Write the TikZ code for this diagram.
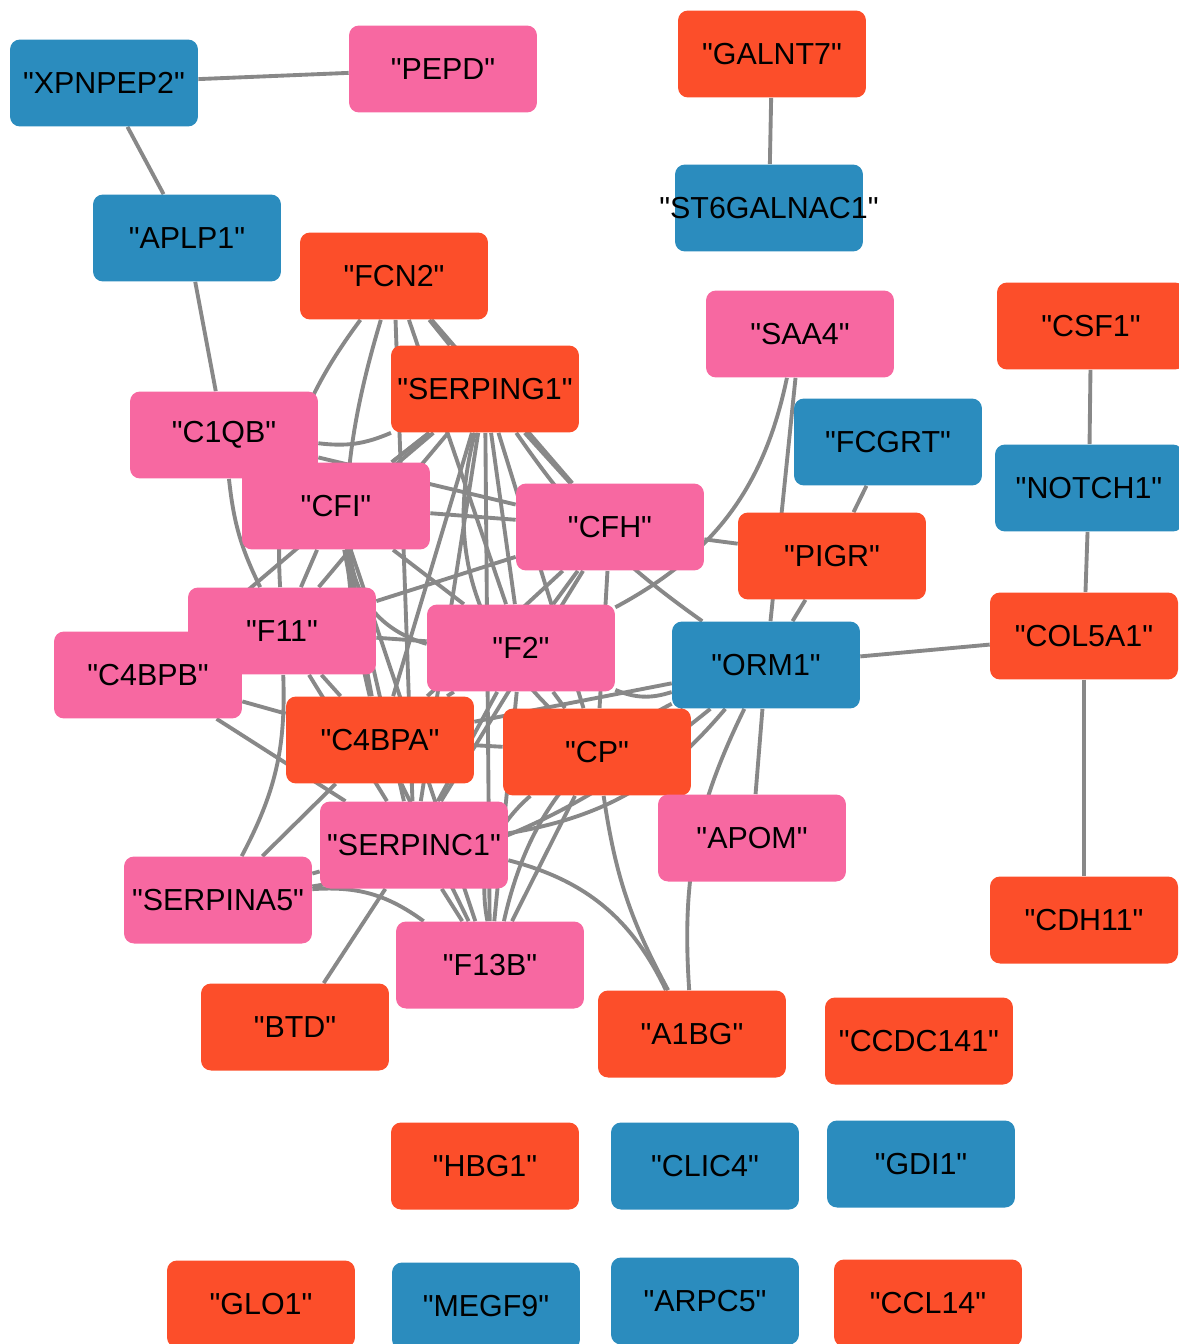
\documentclass[tikz,border=0pt]{standalone}
\usepackage{fontspec}
\setmainfont{Liberation Sans}[Ligatures=TeXOff]
\definecolor{blueg}{RGB}{43, 140, 190}
\definecolor{redg}{RGB}{252, 78, 42}
\definecolor{pinkg}{RGB}{247, 104, 161}
\definecolor{linkgray}{RGB}{136, 136, 136}
\pgfdeclarelayer{back}
\pgfsetlayers{back,main}
\tikzset{
    gene/.style = {rectangle, rounded corners = 0.2cm, minimum width = 3.76cm, minimum height = 1.74cm, inner sep = 0pt, font = \fontsize{17.3}{20}\selectfont},
    bluebox/.style = {gene, fill = blueg},
    redbox/.style = {gene, fill = redg},
    pinkbox/.style = {gene, fill = pinkg},
    link/.style = {draw = linkgray, line width = 2.2pt}
}

\begin{document}
\begin{tikzpicture}[x = 0.02cm, y = -0.02cm]
    \useasboundingbox (0,0) rectangle (1178,1344);

    % isolated pairs and the top row
    \node[bluebox] (xpnpep2) at (104,83) {"XPNPEP2"};
    \node[pinkbox] (pepd) at (443,69) {"PEPD"};
    \node[redbox] (galnt7) at (772,54) {"GALNT7"};
    \node[bluebox] (st6) at (769,208) {\makebox[3.7cm]{"ST6GALNAC1"}};
    \node[bluebox] (aplp1) at (187,238) {"APLP1"};
    \node[redbox] (fcn2) at (394,276) {"FCN2"};
    \node[pinkbox] (saa4) at (800,334) {"SAA4"};
    \node[redbox] (csf1) at (1091,326) {"CSF1"};
    \node[redbox] (serping1) at (485,389) {"SERPING1"};
    \node[pinkbox] (c1qb) at (224,435) {"C1QB"};
    \node[bluebox] (fcgrt) at (888,442) {"FCGRT"};
    \node[bluebox] (notch1) at (1089,488) {"NOTCH1"};
    \node[pinkbox] (cfi) at (336,506) {"CFI"};
    \node[pinkbox] (cfh) at (610,527) {"CFH"};
    \node[redbox] (pigr) at (832,556) {"PIGR"};
    \node[pinkbox] (f11) at (282,631) {"F11"};
    \node[pinkbox] (c4bpb) at (148,675) {"C4BPB"};
    \node[pinkbox] (f2) at (521,648) {"F2"};
    \node[bluebox] (orm1) at (766,665) {"ORM1"};
    \node[redbox] (col5a1) at (1084,636) {"COL5A1"};
    \node[redbox] (c4bpa) at (380,740) {"C4BPA"};
    \node[redbox] (cp) at (597,752) {"CP"};
    \node[pinkbox] (apom) at (752,838) {"APOM"};
    \node[pinkbox] (serpinc1) at (414,845) {"SERPINC1"};
    \node[pinkbox] (serpina5) at (218,900) {"SERPINA5"};
    \node[redbox] (cdh11) at (1084,920) {"CDH11"};
    \node[pinkbox] (f13b) at (490,965) {"F13B"};
    \node[redbox] (btd) at (295,1027) {"BTD"};
    \node[redbox] (a1bg) at (692,1034) {"A1BG"};
    \node[redbox] (ccdc141) at (919,1041) {"CCDC141"};

    % genes without links
    \node[redbox] (hbg1) at (485,1166) {"HBG1"};
    \node[bluebox] (clic4) at (705,1166) {"CLIC4"};
    \node[bluebox] (gdi1) at (921,1164) {"GDI1"};
    \node[redbox] (glo1) at (261,1304) {"GLO1"};
    \node[bluebox] (megf9) at (486,1306) {"MEGF9"};
    \node[bluebox] (arpc5) at (705,1301) {"ARPC5"};
    \node[redbox] (ccl14) at (928,1303) {"CCL14"};

    \begin{pgfonlayer}{back}
        % straight links
        \foreach \a/\b in {xpnpep2/pepd, xpnpep2/aplp1, aplp1/c1qb, galnt7/st6, csf1/notch1, notch1/col5a1,
            col5a1/cdh11, col5a1/orm1, fcgrt/pigr, saa4/orm1, pigr/orm1, cfh/pigr, orm1/apom,
            btd/serpinc1, serpina5/c4bpa, serpina5/serpinc1, c4bpb/c4bpa, c4bpb/serpinc1,
            c1qb/cfh, cfi/cfh, cfi/serping1, fcn2/serping1, fcn2/cfh, fcn2/f2, fcn2/serpinc1,
            serping1/cfi, serping1/f11, serping1/c4bpb, serping1/f2, serping1/c4bpa, serping1/cp,
            serping1/serpinc1, serping1/f13b, serping1/cfh, cfh/f2, cfh/c4bpa, cfh/cp, cfh/serpinc1,
            cfh/f11, f2/c4bpa, f2/cp, f2/serpinc1, f2/f13b, f2/f11, f2/cfi, f11/c4bpa, f11/serpinc1,
            f11/cfi, c4bpa/f13b, c4bpa/cp, c4bpa/orm1, cfi/f13b, cfi/c4bpa, cfi/serpinc1, cp/orm1,
            serpinc1/f13b, cp/f13b}
            \draw[link] (\a) -- (\b);

        % bent links
        \draw[link] (saa4) to[bend left = 25] (f2);
        \draw[link] (serping1) to[bend right = 10] (orm1);
        \draw[link] (orm1) to[bend right = 15] (a1bg);
        \draw[link] (cp) to[bend right = 10] (a1bg);
        \draw[link] (serpinc1) to[bend left = 25] (a1bg);
        \draw[link] (serpinc1) to[bend right = 20] (orm1);
        \draw[link] (serpina5) to[bend right = 15] (orm1);
        \draw[link] (f13b) to[bend left = 25] (orm1);
        \draw[link] (f13b) to[bend left = 30] (cp);
        \draw[link] (serpina5) to[bend left = 20] (f13b);
        \draw[link] (f11) to[bend left = 15] (serpina5);
        \draw[link] (c1qb) to[bend right = 10] (f11);
        \draw[link] (c1qb) to[bend right = 15] (serping1);
        \draw[link] (fcn2) to[bend right = 20] (f11);
        \draw[link] (fcn2) to[bend right = 15] (c4bpa);
        \draw[link] (cfi) to[bend right = 35] (f2);
        \draw[link] (f2) to[bend right = 20] (orm1);
        \draw[link] (serping1) to[bend right = 30] (cp);
    \end{pgfonlayer}
\end{tikzpicture}
\end{document}
